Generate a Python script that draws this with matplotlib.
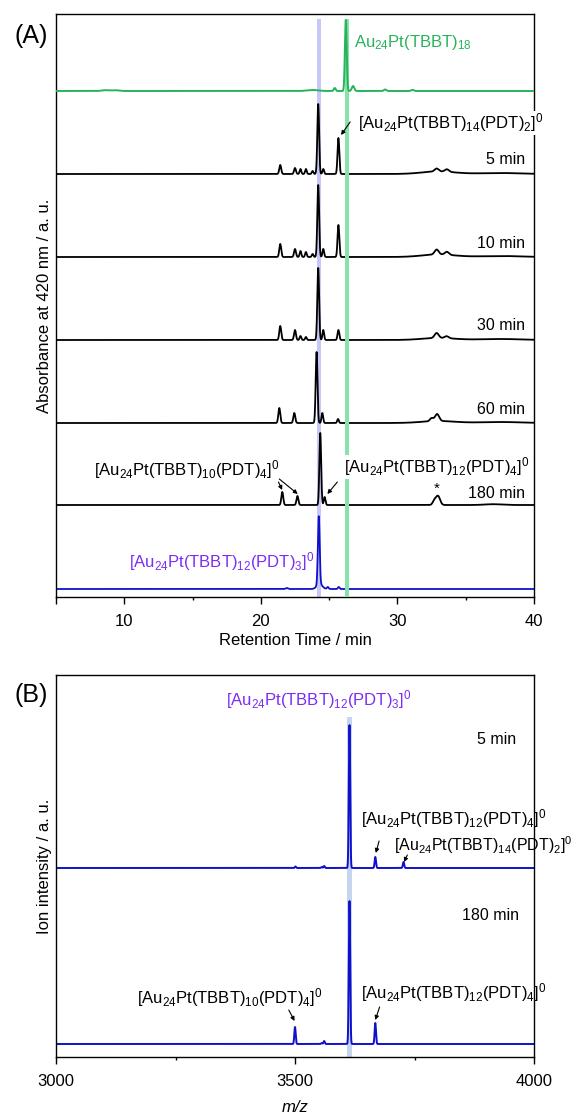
import numpy as np
import matplotlib.pyplot as plt

plt.rcParams['font.family'] = ['Liberation Sans', 'DejaVu Sans']
plt.rcParams['mathtext.fontset'] = 'custom'
plt.rcParams['mathtext.rm'] = 'Liberation Sans'
plt.rcParams['mathtext.it'] = 'Liberation Sans:italic'
plt.rcParams['mathtext.bf'] = 'Liberation Sans:bold'

#HPLC traces (A): peak centre (min), height (a.u.), width (min) for each run
std_pos = [8.6, 9.3, 23.8, 25.41, 26.22, 26.75, 29.1, 31.1]
std_hgt = [0.8, 0.8, 1.0, 3, 71, 5, 1.5, 1.2]
std_wid = [0.25, 0.25, 0.4, 0.07, 0.065, 0.09, 0.09, 0.09]

m5_pos = [21.42, 22.5, 22.9, 23.3, 23.79, 24.2, 24.57, 25.68, 32.87, 33.62, 33.0, 37.5]
m5_hgt = [9, 6, 5, 5, 3, 70, 5, 36, 3, 2.5, 2.5, 1.0]
m5_wid = [0.07, 0.07, 0.06, 0.06, 0.06, 0.065, 0.06, 0.065, 0.15, 0.15, 1.2, 1.5]

m10_pos = [21.42, 22.5, 22.9, 23.3, 23.79, 24.2, 24.57, 25.68, 32.87, 33.62, 33.0, 37.5]
m10_hgt = [13, 8, 6, 5, 3, 72, 8, 32, 5, 3, 2.5, 1.0]
m10_wid = [0.07, 0.07, 0.06, 0.06, 0.06, 0.065, 0.06, 0.065, 0.15, 0.15, 1.2, 1.5]

m30_pos = [21.42, 22.5, 22.9, 23.3, 24.2, 24.57, 25.68, 32.87, 33.6, 33.0, 37.5]
m30_hgt = [14, 10, 4, 3, 72, 10, 10, 5, 2, 2, 1.0]
m30_wid = [0.07, 0.07, 0.06, 0.06, 0.065, 0.06, 0.065, 0.15, 0.15, 1.2, 1.5]

m60_pos = [21.35, 22.45, 24.08, 24.5, 25.65, 32.5, 32.9, 33.0, 37.5]
m60_hgt = [15, 10, 71, 10, 4, 3, 7, 2, 1.0]
m60_wid = [0.07, 0.07, 0.065, 0.06, 0.06, 0.12, 0.15, 1.2, 1.5]

m180_pos = [21.57, 22.68, 24.35, 24.67, 32.7, 32.97, 37.0]
m180_hgt = [13, 9, 72, 8, 4, 9, 0.8]
m180_wid = [0.07, 0.07, 0.065, 0.06, 0.12, 0.15, 0.6]

pure_pos = [21.9, 24.24, 24.3, 24.9, 25.7]
pure_hgt = [1, 68, 5, 2, 2]
pure_wid = [0.08, 0.065, 0.2, 0.06, 0.06]

#ESI-MS (B): peak centre (m/z), height (a.u.), width (m/z)
ms5_pos = [3501, 3556, 3561, 3614, 3668, 3727]
ms5_hgt = [1.5, 1, 2, 143, 11, 6]
ms5_wid = [1.3, 1.3, 1.3, 1.4, 1.4, 1.4]

ms180_pos = [3500, 3556, 3561, 3614, 3668]
ms180_hgt = [17, 1, 3, 143, 21]
ms180_wid = [1.4, 1.3, 1.3, 1.4, 1.4]


def trace(x, pos, hgt, wid):
	y = np.zeros_like(x)
	for p, h, w in zip(pos, hgt, wid):
		y += h * np.exp(-0.5 * ((x - p) / w) ** 2)
	return y


W, H = 579, 1116
fig = plt.figure(figsize=(W / 100, H / 100), dpi=100)

#panel geometry in pixels
L, R = 56, 534
a_top, a_bot = 14, 597
b_top, b_bot = 675, 1057

axA = fig.add_axes([L / W, 1 - a_bot / H, (R - L) / W, (a_bot - a_top) / H])
axB = fig.add_axes([L / W, 1 - b_bot / H, (R - L) / W, (b_bot - b_top) / H])

def ya(px):
	return a_bot - px

def yb(px):
	return b_bot - px

purple = '#7b2ef2'
green = '#28b35a'
blue = '#1010cc'
arw = dict(arrowstyle='-|>', lw=0.8, color='black', mutation_scale=6, shrinkA=0, shrinkB=0)

#---------------- (A) ----------------
rt = np.linspace(5, 40, 5000)
axA.axvspan(24.1, 24.4, ymin=0, ymax=ya(19) / (a_bot - a_top), color='#c8c8f8', lw=0, zorder=0)
axA.axvspan(26.13, 26.43, ymin=0, ymax=ya(19) / (a_bot - a_top), color='#86e3aa', lw=0, zorder=3)

axA.plot(rt, ya(91) + trace(rt, std_pos, std_hgt, std_wid), color=green, lw=1.4, zorder=4)
axA.plot(rt, ya(174) + trace(rt, m5_pos, m5_hgt, m5_wid), color='black', lw=1.3, zorder=2)
axA.plot(rt, ya(257) + trace(rt, m10_pos, m10_hgt, m10_wid), color='black', lw=1.3, zorder=2)
axA.plot(rt, ya(340) + trace(rt, m30_pos, m30_hgt, m30_wid), color='black', lw=1.3, zorder=2)
axA.plot(rt, ya(423) + trace(rt, m60_pos, m60_hgt, m60_wid), color='black', lw=1.3, zorder=2)
axA.plot(rt, ya(505) + trace(rt, m180_pos, m180_hgt, m180_wid), color='black', lw=1.3, zorder=2)
axA.plot(rt, ya(589) + trace(rt, pure_pos, pure_hgt, pure_wid), color=blue, lw=1.3, zorder=2)

axA.set_xlim(5, 40)
axA.set_ylim(0, a_bot - a_top)
axA.set_xticks([5, 10, 20, 30, 40])
axA.set_xticklabels(['', '10', '20', '30', '40'])
axA.set_xticks([15, 25, 35], minor=True)
axA.set_yticks([])
axA.set_xlabel('Retention Time / min', fontsize=12, labelpad=3)
axA.set_ylabel('Absorbance at 420 nm / a. u.', fontsize=12, va='center')
axA.yaxis.set_label_coords(-0.024, 0.5)

fs = 12
axA.text(26.8, ya(43), r'Au$_{24}$Pt(TBBT)$_{18}$', color=green, fontsize=fs, va='center', zorder=6)
axA.text(27.08, ya(123), r'[Au$_{24}$Pt(TBBT)$_{14}$(PDT)$_{2}$]$^{0}$', fontsize=fs, va='center',
	bbox=dict(facecolor='white', edgecolor='none', pad=0.5), zorder=6, clip_on=False)
axA.annotate('', xy=(25.87, ya(135)), xytext=(26.54, ya(122)), arrowprops=arw, zorder=6)

for lab, py in zip(['5 min', '10 min', '30 min', '60 min', '180 min'], [160, 243, 326, 409, 493]):
	axA.text(39.33, ya(py), lab, fontsize=11.5, ha='right', va='center', zorder=6)

axA.text(21.4, ya(470), r'[Au$_{24}$Pt(TBBT)$_{10}$(PDT)$_{4}$]$^{0}$', fontsize=fs, ha='right', va='center', zorder=6)
axA.annotate('', xy=(21.56, ya(490)), xytext=(21.29, ya(482)), arrowprops=arw, zorder=6)
axA.annotate('', xy=(22.7, ya(494)), xytext=(21.35, ya(479)), arrowprops=arw, zorder=6)

axA.text(26.1, ya(467), r'[Au$_{24}$Pt(TBBT)$_{12}$(PDT)$_{4}$]$^{0}$', fontsize=fs, va='center',
	bbox=dict(facecolor='white', edgecolor='none', pad=0.5), zorder=6)
axA.annotate('', xy=(24.87, ya(494)), xytext=(25.6, ya(482)), arrowprops=arw, zorder=6)
axA.text(32.9, ya(489), '*', fontsize=11, ha='center', va='center', zorder=6)

axA.text(10.33, ya(562), r'[Au$_{24}$Pt(TBBT)$_{12}$(PDT)$_{3}$]$^{0}$', color=purple, fontsize=fs, va='center', zorder=6)

#---------------- (B) ----------------
mz = np.linspace(3000, 4000, 8000)
axB.axvspan(3608, 3620, ymin=0, ymax=yb(717) / (b_bot - b_top), color='#c5d4ef', lw=0, zorder=0)
axB.plot(mz, yb(868) + trace(mz, ms5_pos, ms5_hgt, ms5_wid), color=blue, lw=1.4, zorder=2)
axB.plot(mz, yb(1044) + trace(mz, ms180_pos, ms180_hgt, ms180_wid), color=blue, lw=1.4, zorder=2)

axB.set_xlim(3000, 4000)
axB.set_ylim(0, b_bot - b_top)
axB.set_xticks([3000, 3500, 4000])
axB.set_xticks([3250, 3750], minor=True)
axB.set_yticks([])
axB.set_xlabel('m/z', fontsize=12, fontstyle='italic', labelpad=8)
axB.set_ylabel('Ion intensity / a. u.', fontsize=12, va='center')
axB.yaxis.set_label_coords(-0.024, 0.5)

axB.text(3550, yb(700), r'[Au$_{24}$Pt(TBBT)$_{12}$(PDT)$_{3}$]$^{0}$', color=purple, fontsize=fs,
	ha='center', va='center', clip_on=False)
axB.text(3962, yb(740), '5 min', fontsize=11.5, ha='right', va='center')
axB.text(3638, yb(819), r'[Au$_{24}$Pt(TBBT)$_{12}$(PDT)$_{4}$]$^{0}$', fontsize=fs, va='center', clip_on=False)
axB.annotate('', xy=(3669, yb(853)), xytext=(3676, yb(841)), arrowprops=arw)
axB.text(3707, yb(845), r'[Au$_{24}$Pt(TBBT)$_{14}$(PDT)$_{2}$]$^{0}$', fontsize=11.5, va='center', clip_on=False)
axB.annotate('', xy=(3728, yb(862)), xytext=(3735, yb(855)), arrowprops=arw)

axB.text(3969, yb(915), '180 min', fontsize=11.5, ha='right', va='center')
axB.text(3169, yb(998), r'[Au$_{24}$Pt(TBBT)$_{10}$(PDT)$_{4}$]$^{0}$', fontsize=fs, va='center')
axB.annotate('', xy=(3499, yb(1021)), xytext=(3487, yb(1010)), arrowprops=arw)
axB.text(3638, yb(993), r'[Au$_{24}$Pt(TBBT)$_{12}$(PDT)$_{4}$]$^{0}$', fontsize=fs, va='center', clip_on=False)
axB.annotate('', xy=(3668, yb(1020)), xytext=(3677, yb(1007)), arrowprops=arw)

for ax in [axA, axB]:
	for sp in ax.spines.values():
		sp.set_linewidth(1.0)
	ax.tick_params(axis='x', which='major', direction='out', length=5, width=1.0, labelsize=12, pad=7)
	ax.tick_params(axis='x', which='minor', direction='out', length=2.5, width=1.0)

fig.text(15 / W, 1 - 36 / H, '(A)', fontsize=18, va='center')
fig.text(15 / W, 1 - 695 / H, '(B)', fontsize=18, va='center')

plt.savefig('out.png', dpi=100)
